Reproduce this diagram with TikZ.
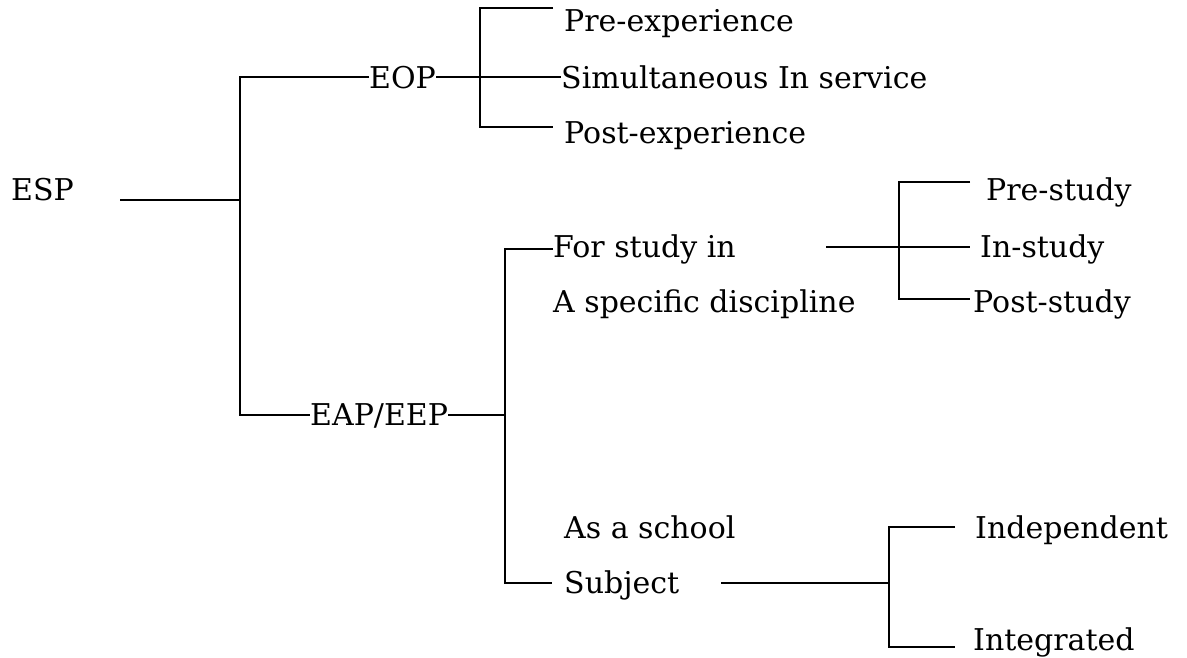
\documentclass[tikz,border=0pt]{standalone}
\usepackage{fontspec}
\setmainfont{DejaVu Serif}
\usetikzlibrary{positioning}
\tikzset{leaf node/.style={inner sep=0pt,anchor=base west,font=\fontsize{30}{35}\selectfont},
         tree line/.style={draw,line width=2pt}}

\begin{document}
\begin{tikzpicture}[x=1pt,y=-1pt]
            \useasboundingbox (0,0) rectangle (1187,657);
            % labels
            \node[leaf node] (esp) at (11,200) {ESP};
            \node[leaf node] (eop) at (369,88) {EOP};
            \node[leaf node] (pre) at (564,31) {Pre-experience};
            \node[leaf node] (sim) at (561,88) {Simultaneous In service};
            \node[leaf node] (post) at (564,143) {Post-experience};
            \node[leaf node] (eap) at (310,425) {EAP/EEP};
            \node[leaf node] (for) at (553,257) {For study in};
            \node[leaf node] (spec) at (553,312) {A specific discipline};
            \node[leaf node] (school) at (564,538) {As a school};
            \node[leaf node] (subj) at (564,593) {Subject};
            \node[leaf node] (prestudy) at (986,200) {Pre-study};
            \node[leaf node] (instudy) at (980,257) {In-study};
            \node[leaf node] (poststudy) at (973,312) {Post-study};
            \node[leaf node] (indep) at (975,538) {Independent};
            \node[leaf node] (integ) at (973,650) {Integrated};

            % forks and free ends
            \coordinate (espend) at (120,199.5);
            \coordinate (espfork) at (240,199.5);
            \coordinate (eopfork) at (480,79);
            \coordinate (preend) at (553,8);
            \coordinate (postend) at (553,127);
            \coordinate (eapfork) at (505,415);
            \coordinate (subjend) at (552,583);
            \coordinate (forright) at (826,247);
            \coordinate (studyfork) at (899,247);
            \coordinate (prestudyend) at (970,182);
            \coordinate (instudyend) at (970,247);
            \coordinate (poststudyend) at (970,299);
            \coordinate (subjright) at (721,583);
            \coordinate (schoolfork) at (889,583);
            \coordinate (independ) at (955,527);
            \coordinate (integend) at (955,647);

            \path[tree line]
            (espend) -- (espfork)
            (eop) -| (espfork) |- (eap)
            (eop.east) -- (eop.east -| sim.west)
            (preend) -| (eopfork) |- (postend)
            (eap) -- (eap -| eapfork)
            (for) -| (eapfork) |- (subjend)
            (forright) -- (instudyend)
            (prestudyend) -| (studyfork) |- (poststudyend)
            (subjright) -- (schoolfork)
            (independ) -| (schoolfork) |- (integend);
        \end{tikzpicture}
\end{document}
